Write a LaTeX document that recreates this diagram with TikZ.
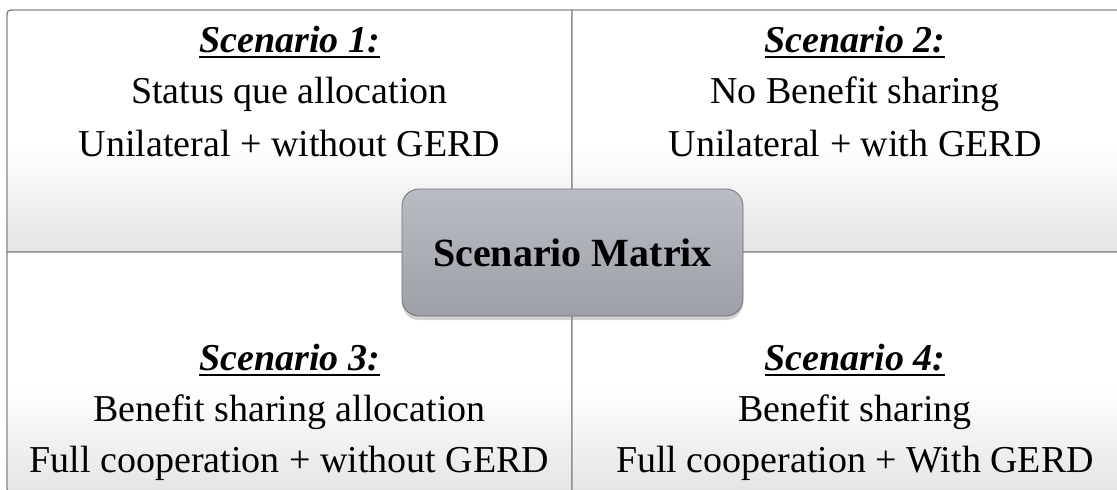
\documentclass[tikz,border=0pt]{standalone}
\usepackage{fontspec}
\setmainfont{Liberation Serif}
\usetikzlibrary{shadows}

\definecolor{qedge}{RGB}{135,135,135}
\definecolor{qlow}{RGB}{228,228,228}
\definecolor{hubtop}{RGB}{186,188,196}
\definecolor{hubbot}{RGB}{158,160,168}
\definecolor{hubedge}{RGB}{112,114,120}

% white upper half fading into light grey towards the bottom
\pgfdeclareverticalshading{quadfade}{100bp}{%
  color(0bp)=(qlow); color(25bp)=(qlow); color(47bp)=(white); color(75bp)=(white); color(100bp)=(white)}

% underlined title text with a heavier rule
\newcommand\scnline[1]{\setbox0\hbox{#1}\rlap{\rule[-6pt]{\wd0}{2.4pt}}\box0}

\begin{document}
\begin{tikzpicture}[x=1pt,y=-1pt,
  quad/.style={draw=qedge, line width=1.4pt, shading=quadfade},
  txt/.style={anchor=base, inner sep=0pt, font=\fontsize{38}{46}\selectfont},
  ttl/.style={anchor=base, inner sep=0pt, font=\fontsize{38}{46}\selectfont\bfseries\itshape},
  hub/.style={draw=hubedge, line width=0.8pt, rounded corners=17pt,
    top color=hubtop, bottom color=hubbot,
    minimum width=341pt, minimum height=127pt, inner sep=0pt,
    font=\fontsize{40}{48}\selectfont\bfseries,
    drop shadow={opacity=0.35, shadow xshift=0pt, shadow yshift=-4pt}}]

\useasboundingbox (0,0) rectangle (1117,490);
\clip (0,0) rectangle (1117,490);

% four quadrants, each with its outer corner rounded
\draw[quad] (572,252) -- (7,252) -- (7,18) .. controls (7,10) .. (15,10) -- (572,10) -- cycle;
\draw[quad] (572,252) -- (572,10) -- (1130,10) .. controls (1138,10) .. (1138,18) -- (1138,252) -- cycle;
\draw[quad] (572,252) -- (7,252) -- (7,486) .. controls (7,494) .. (15,494) -- (572,494) -- cycle;
\draw[quad] (572,252) -- (1138,252) -- (1138,486) .. controls (1138,494) .. (1130,494) -- (572,494) -- cycle;

% scenario 1
\node[ttl] (s1t) at (289.5,52)  {\scnline{Scenario 1:}};
\node[txt] (s1a) at (289.5,103.5) {Status que allocation};
\node[txt] (s1b) at (289.5,156.5) {Unilateral + without GERD};

% scenario 2
\node[ttl] (s2t) at (855,52)  {\scnline{Scenario 2:}};
\node[txt] (s2a) at (855,103.5) {No Benefit sharing};
\node[txt] (s2b) at (855,156.5) {Unilateral + with GERD};

% scenario 3
\node[ttl] (s3t) at (289.5,370) {\scnline{Scenario 3:}};
\node[txt] (s3a) at (289.5,421) {Benefit sharing allocation};
\node[txt] (s3b) at (289.5,472) {Full cooperation + without GERD};

% scenario 4
\node[ttl] (s4t) at (855,370) {\scnline{Scenario 4:}};
\node[txt] (s4a) at (855,421) {Benefit sharing};
\node[txt] (s4b) at (855,472) {Full cooperation + With GERD};

% central label
\node[hub] (hub) at (572.5,252.5) {Scenario Matrix};

\end{tikzpicture}
\end{document}
